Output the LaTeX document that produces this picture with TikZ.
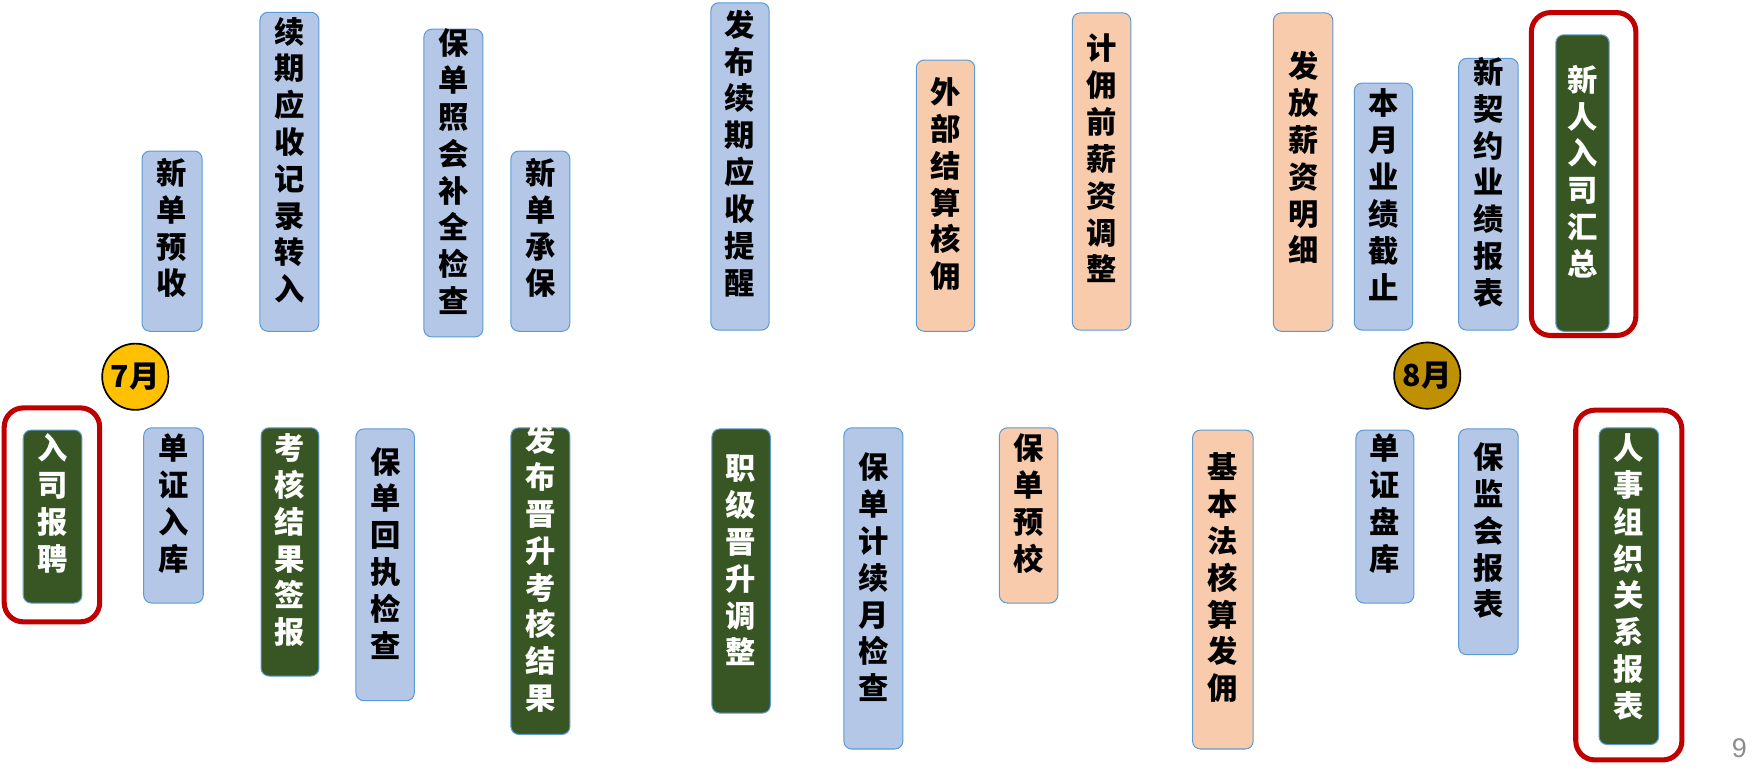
\documentclass[tikz,border=0pt]{standalone}
\usepackage{fontspec}
\newfontfamily\cjk{Noto Sans CJK SC}
\newfontfamily\lsans{Liberation Sans}
\definecolor{boxblue}{HTML}{B4C7E7}
\definecolor{boxorange}{HTML}{F8CBAD}
\definecolor{boxgreen}{HTML}{375623}
\definecolor{edgeblue}{HTML}{5B9BD5}
\definecolor{framered}{HTML}{C00000}
\definecolor{mgold}{HTML}{FFC000}
\definecolor{mdark}{HTML}{BF9000}
\definecolor{pagegray}{HTML}{8C8C8C}
\def\vtxloop#1{\ifx\relax#1\else\hbox{#1}\expandafter\vtxloop\fi}
\newcommand\myvtext[1]{\vtop{\baselineskip=32.8pt\lineskiplimit=-100pt\relax\vtxloop#1\relax}}
\tikzset{
  card/.style={draw=edgeblue, line width=0.9pt, rounded corners=7pt, inner sep=0pt, outer sep=0pt},
  blu/.style={fill=boxblue},
  ora/.style={fill=boxorange},
  grn/.style={fill=boxgreen},
  cardtxt/.style={inner sep=0pt, font=\cjk\bfseries\fontsize{27}{32.8}\selectfont},
  blutxt/.style={cardtxt, text=black},
  oratxt/.style={cardtxt, text=black},
  grntxt/.style={cardtxt, text=white},
  hilite/.style={draw=framered, line width=4.5pt, rounded corners=17pt, inner sep=0pt},
  month/.style={circle, draw=black, line width=1.5pt, minimum size=59pt, inner sep=0pt,
    font=\cjk\bfseries\fontsize{27}{27}\selectfont, text=black}
}
% name, style, xl, xr, ytop, ybottom, first-char centre, text
\newcommand\mkcard[8]{%
  \node[card,#2,minimum width={#4-#3},minimum height={#6-#5}] (#1) at ({(#3+#4)/2},{(#5+#6)/2}) {};
  \node[#2txt, anchor=base] (#1t) at ({(#3+#4)/2},{#7+10.3}) {\myvtext{#8}};
}
\begin{document}
\begin{tikzpicture}[x=1pt,y=-1pt]
\useasboundingbox (0,0) rectangle (1570,692);
% highlight frames
\node[hilite, minimum width=85, minimum height=190.5] (f1) at (46.25,458.5) {};
\node[hilite, minimum width=93, minimum height=287.5] (f2) at (1410.25,155) {};
\node[hilite, minimum width=94.5, minimum height=311.5] (f3) at (1450.5,521) {};
% top row
\mkcard{a1}{blu}{126.5}{180}{134.5}{295}{154}{新单预收}
\mkcard{a2}{blu}{231.5}{284}{11}{295}{28}{续期应收记录转入}
\mkcard{a3}{blu}{377.5}{430}{26}{300}{38.5}{保单照会补全检查}
\mkcard{a4}{blu}{455}{507.5}{134.5}{295}{154}{新单承保}
\mkcard{a5}{blu}{633}{685}{2.5}{294}{22}{发布续期应收提醒}
\mkcard{a6}{ora}{816}{868}{53.5}{295}{82}{外部结算核佣}
\mkcard{a7}{ora}{955}{1007}{11.5}{294}{43}{计佣前薪资调整}
\mkcard{a8}{ora}{1134}{1187}{11.5}{295}{59}{发放薪资明细}
\mkcard{a9}{blu}{1206}{1258}{74}{294}{92}{本月业绩截止}
\mkcard{a10}{blu}{1299}{1352}{52}{294}{64}{新契约业绩报表}
\mkcard{a11}{grn}{1385.5}{1433}{31}{295}{71}{新人入司汇总}
% bottom row
\mkcard{b1}{grn}{20.7}{73}{383}{537}{399}{入司报聘}
\mkcard{b2}{blu}{128}{181}{381}{537}{399}{单证入库}
\mkcard{b3}{grn}{232.5}{284}{381}{602}{399}{考核结果签报}
\mkcard{b4}{blu}{317}{369}{382}{624}{411}{保单回执检查}
\mkcard{b5}{grn}{455}{507.5}{381}{654}{392}{发布晋升考核结果}
\mkcard{b6}{grn}{634}{686}{382}{635}{417}{职级晋升调整}
\mkcard{b7}{blu}{751.5}{804}{381}{667}{416}{保单计续月检查}
\mkcard{b8}{ora}{890}{942}{381}{537}{399}{保单预校}
\mkcard{b9}{ora}{1062}{1116}{383}{667}{416}{基本法核算发佣}
\mkcard{b10}{blu}{1207.5}{1259}{383}{537}{399}{单证盘库}
\mkcard{b11}{blu}{1299}{1352}{382}{583}{407}{保监会报表}
\mkcard{b12}{grn}{1424}{1477}{381}{663}{399}{人事组织关系报表}
% month markers
\node[month, fill=mgold] (m7) at (120.5,335.5) {7月};
\node[month, fill=mdark] (m8) at (1271,334.5) {8月};
% page number
\node[text=pagegray, font=\lsans\fontsize{24}{24}\selectfont, inner sep=0pt] (pg) at (1549,666) {9};
\end{tikzpicture}
\end{document}
